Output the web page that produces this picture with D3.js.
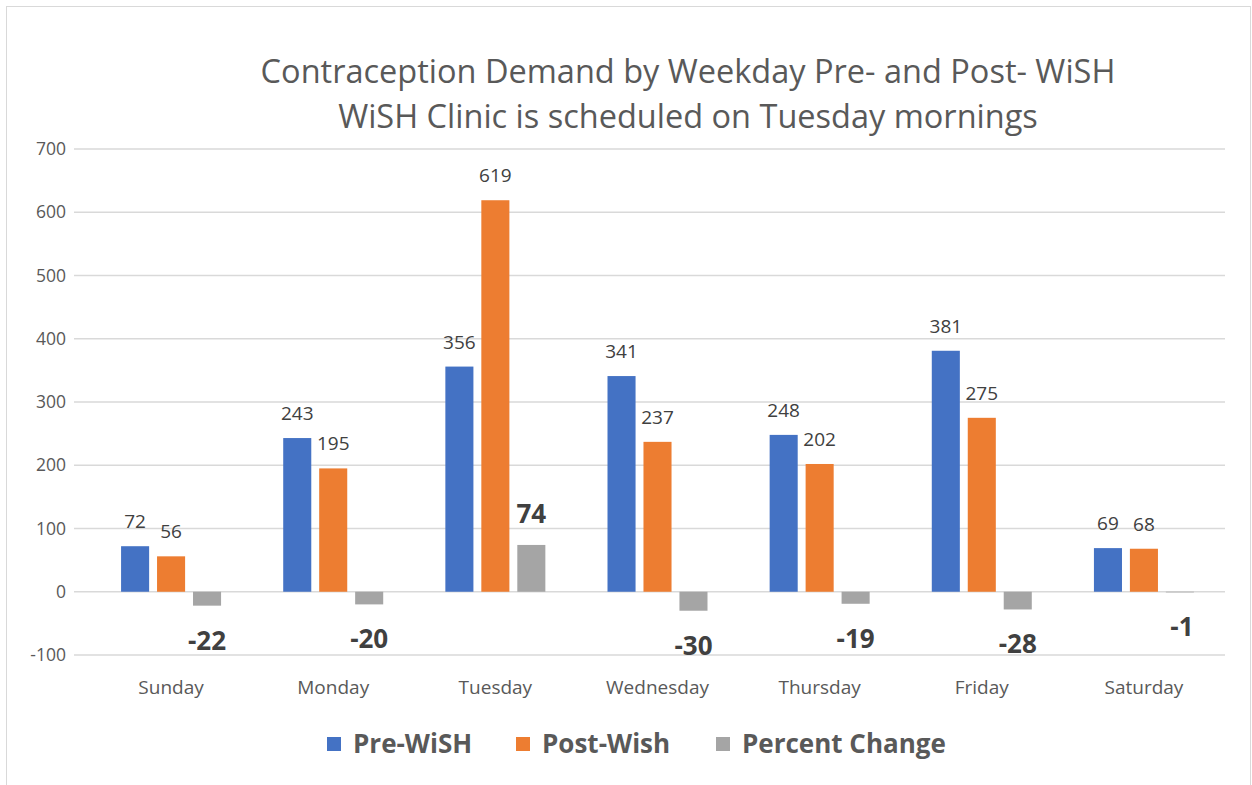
<!DOCTYPE html>
<html>
<head>
<meta charset="utf-8">
<script src="https://cdn.jsdelivr.net/npm/d3@7"></script>
<style>
  body { margin: 0; background: #fff; }
  svg { display: block; font-family: "Open Sans", "Noto Sans", sans-serif; }
</style>
</head>
<body>
<div id="chart"></div>
<script>
// Data
const days = ["Sunday", "Monday", "Tuesday", "Wednesday", "Thursday", "Friday", "Saturday"];
const preWish = [72, 243, 356, 341, 248, 381, 69];
const postWish = [56, 195, 619, 237, 202, 275, 68];
const percentChange = [-22, -20, 74, -30, -19, -28, -1];
const seriesNames = ["Pre-WiSH", "Post-Wish", "Percent Change"];
const yTicks = [-100, 0, 100, 200, 300, 400, 500, 600, 700];
const titleLines = ["Contraception Demand by Weekday Pre- and Post- WiSH", "WiSH Clinic is scheduled on Tuesday mornings"];

const width = 1252, height = 785;
const colors = ["#4472C4", "#ED7D31", "#A5A5A5"];
const textColor = "#595959";
const labelColor = "#404040";

const svg = d3.select("#chart").append("svg")
  .attr("width", width)
  .attr("height", height);

// chart border
svg.append("rect")
  .attr("x", 6.5).attr("y", 6.5)
  .attr("width", width - 8).attr("height", height - 6)
  .attr("fill", "none")
  .attr("stroke", "#d9d9d9");

// scales
const xScale = d3.scaleBand().domain(days).range([90, 1225]);
const xInner = d3.scaleBand().domain(seriesNames).range([0, 100]).paddingInner(0.22);
const yScale = d3.scaleLinear().domain([-100, 700]).range([655, 149]);

// title
svg.append("g").selectAll("text")
  .data(titleLines)
  .enter().append("text")
  .attr("x", 688)
  .attr("y", (d, i) => 83 + i * 45)
  .attr("text-anchor", "middle")
  .attr("fill", textColor)
  .style("font-size", "32.5px")
  .text((d) => d);

// gridlines
svg.append("g").selectAll("line")
  .data(yTicks)
  .enter().append("line")
  .attr("x1", 74).attr("x2", 1225)
  .attr("y1", (d) => yScale(d)).attr("y2", (d) => yScale(d))
  .attr("stroke", "#d9d9d9")
  .attr("stroke-width", 1.5);

// y axis labels
const yAxis = d3.axisLeft(yScale).tickValues(yTicks).tickSize(0).tickPadding(0)
  .tickFormat((d) => String(d));
svg.append("g")
  .attr("class", "y-axis")
  .attr("transform", "translate(66,0)")
  .call(yAxis)
  .attr("font-family", null)
  .attr("font-size", null)
  .call((g) => g.select(".domain").remove())
  .call((g) => g.selectAll("text").attr("fill", textColor).style("font-size", "17.5px"));

// x axis labels
const xAxis = d3.axisBottom(xScale).tickSize(0).tickPadding(0);
svg.append("g")
  .attr("class", "x-axis")
  .attr("transform", "translate(0,680)")
  .call(xAxis)
  .attr("font-family", null)
  .attr("font-size", null)
  .call((g) => g.select(".domain").remove())
  .call((g) => g.selectAll("text").attr("fill", textColor).style("font-size", "19px"));

const series = [preWish, postWish, percentChange];
const groupLeft = (d) => xScale(d) + (xScale.bandwidth() - 100) / 2;

series.forEach((vals, si) => {
  const rows = days.map((day, i) => ({ day, v: vals[i] }));
  const g = svg.append("g");
  g.selectAll("rect")
    .data(rows)
    .enter().append("rect")
    .attr("x", (d) => groupLeft(d.day) + xInner(seriesNames[si]))
    .attr("width", xInner.bandwidth())
    .attr("y", (d) => yScale(Math.max(0, d.v)))
    .attr("height", (d) => Math.abs(yScale(d.v) - yScale(0)))
    .attr("fill", colors[si]);

  g.selectAll("text")
    .data(rows)
    .enter().append("text")
    .attr("x", (d) => groupLeft(d.day) + xInner(seriesNames[si]) + xInner.bandwidth() / 2 + (si === 2 && d.v > -5 && d.v < 0 ? 2 : 0))
    .attr("y", (d) => {
      if (si < 2) return yScale(d.v) - 18;
      return d.v >= 0 ? yScale(d.v) - 22 : yScale(d.v) + 44;
    })
    .attr("text-anchor", "middle")
    .attr("fill", labelColor)
    .style("font-size", si === 2 ? "26px" : "19px")
    .style("font-weight", si === 2 ? "bold" : "normal")
    .text((d) => d.v);
});

// legend
const legendX = [327, 516, 716];
const legend = svg.append("g").selectAll("g")
  .data(seriesNames)
  .enter().append("g")
  .attr("transform", (d, i) => `translate(${legendX[i]},737)`);
legend.append("rect")
  .attr("width", 14).attr("height", 14)
  .attr("fill", (d, i) => colors[i]);
legend.append("text")
  .attr("x", 26).attr("y", 16)
  .attr("fill", textColor)
  .style("font-size", "26px")
  .style("font-weight", "bold")
  .text((d) => d);
</script>
</body>
</html>
